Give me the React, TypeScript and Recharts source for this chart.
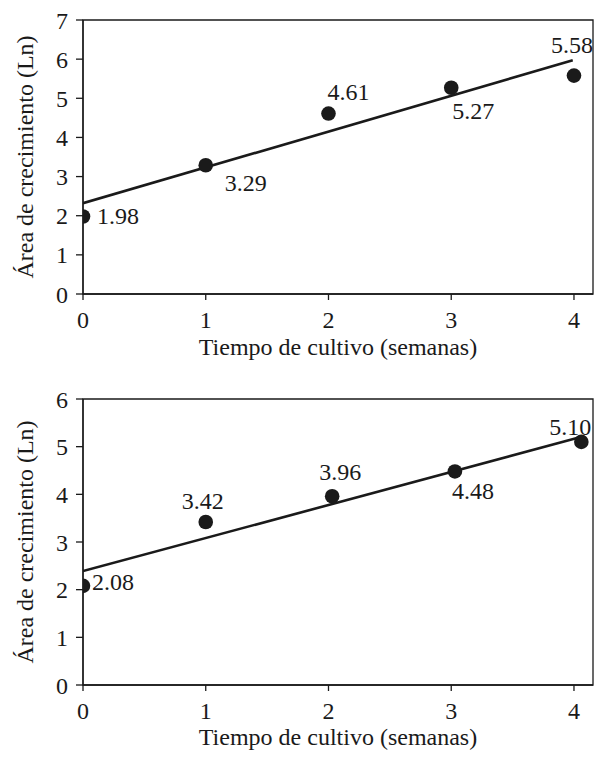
import { ComposedChart, Scatter, Line, XAxis, YAxis, ReferenceArea } from "recharts"

// semanas de cultivo y área (Ln), panel superior
const weeksTop = [0, 1, 2, 3, 4]
const areaTop = [1.98, 3.29, 4.61, 5.27, 5.58]
const fitTopX = [0, 3.99]
const fitTopY = [2.32, 5.97]

// panel inferior
const weeksBottom = [0, 1, 2.03, 3.03, 4.06]
const areaBottom = [2.08, 3.42, 3.96, 4.48, 5.1]
const fitBottomX = [0, 4.04]
const fitBottomY = [2.39, 5.19]

const xTicks = [0, 1, 2, 3, 4]
const yTicksTop = [0, 1, 2, 3, 4, 5, 6, 7]
const yTicksBottom = [0, 1, 2, 3, 4, 5, 6]

const xLabel = "Tiempo de cultivo (semanas)"
const yLabel = "Área de crecimiento (Ln)"

// label offsets relative to each point (dx, dy, anchor)
const offsetsTop: [number, number, string][] = [
  [14, 0, "start"],
  [40, 18, "middle"],
  [20, -22, "middle"],
  [22, 23, "middle"],
  [-2, -31, "middle"],
]
const offsetsBottom: [number, number, string][] = [
  [9, -4, "start"],
  [-3, -21, "middle"],
  [8, -24, "middle"],
  [18, 20, "middle"],
  [-11, -15, "middle"],
]

const FONT = "Liberation Serif, Times New Roman, serif"
const INK = "#1a1a1a"
const FS = 24
const X_MAX = 4.155

type PanelProps = {
  xs: number[]
  ys: number[]
  fitX: number[]
  fitY: number[]
  yMax: number
  yTicks: number[]
  offsets: [number, number, string][]
  height: number
  top: number
  xAxisHeight: number
  xLabelDy: number
}

function Panel({ xs, ys, fitX, fitY, yMax, yTicks, offsets, height, top, xAxisHeight, xLabelDy }: PanelProps) {
  const points = xs.map((x, i) => ({ x, y: ys[i], idx: i }))
  const fit = fitX.map((x, i) => ({ x, y: fitY[i] }))

  const dot = (p: any) => {
    const o = offsets[p.payload.idx]
    return (
      <g>
        <circle cx={p.cx} cy={p.cy} r={7.3} fill={INK} />
        <text
          x={p.cx + o[0]}
          y={p.cy + o[1]}
          textAnchor={o[2] as any}
          dominantBaseline="central"
          style={{ fontFamily: FONT, fontSize: FS }}
          fill={INK}
        >
          {p.payload.y.toFixed(2)}
        </text>
      </g>
    )
  }

  return (
    <ComposedChart
      width={596}
      height={height}
      margin={{ top, right: 3, bottom: 0, left: 0 }}
      style={{ fontFamily: FONT }}
    >
      <XAxis
        type="number"
        dataKey="x"
        domain={[0, X_MAX]}
        ticks={xTicks}
        allowDataOverflow
        height={xAxisHeight}
        tickSize={6}
        tickMargin={11}
        stroke={INK}
        strokeWidth={1.3}
        tick={{ fill: INK, fontSize: FS, fontFamily: FONT }}
        label={(props: any) => {
          const vb = props.viewBox
          return (
            <text
              x={vb.x + vb.width / 2}
              y={vb.y + xLabelDy}
              textAnchor="middle"
              style={{ fontFamily: FONT, fontSize: FS }}
              fill={INK}
            >
              {xLabel}
            </text>
          )
        }}
      />
      <YAxis
        type="number"
        dataKey="y"
        domain={[0, yMax]}
        ticks={yTicks}
        width={83}
        tickSize={7}
        tickMargin={8}
        stroke={INK}
        strokeWidth={1.3}
        tick={{ fill: INK, fontSize: FS, fontFamily: FONT }}
        label={(props: any) => {
          const vb = props.viewBox
          const cy = vb.y + vb.height / 2
          return (
            <text
              x={25}
              y={cy}
              transform={`rotate(-90 25 ${cy})`}
              textAnchor="middle"
              dominantBaseline="central"
              style={{ fontFamily: FONT, fontSize: FS }}
              fill={INK}
            >
              {yLabel}
            </text>
          )
        }}
      />
      <ReferenceArea x1={0} x2={X_MAX} y1={0} y2={yMax} fill="none" stroke={INK} strokeWidth={1.3} />
      <Line
        data={fit}
        dataKey="y"
        type="linear"
        stroke={INK}
        strokeWidth={2.6}
        dot={false}
        activeDot={false}
        isAnimationActive={false}
      />
      <Scatter data={points} dataKey="y" shape={dot} isAnimationActive={false} />
    </ComposedChart>
  )
}

export default function App() {
  return (
    <div style={{ position: "absolute", left: 0, top: 0, width: 596, height: 759, background: "#fff" }}>
      <Panel
        xs={weeksTop}
        ys={areaTop}
        fitX={fitTopX}
        fitY={fitTopY}
        yMax={7}
        yTicks={yTicksTop}
        offsets={offsetsTop}
        height={370}
        top={20}
        xAxisHeight={76}
        xLabelDy={61}
      />
      <Panel
        xs={weeksBottom}
        ys={areaBottom}
        fitX={fitBottomX}
        fitY={fitBottomY}
        yMax={6}
        yTicks={yTicksBottom}
        offsets={offsetsBottom}
        height={389}
        top={29}
        xAxisHeight={74}
        xLabelDy={60}
      />
    </div>
  )
}
